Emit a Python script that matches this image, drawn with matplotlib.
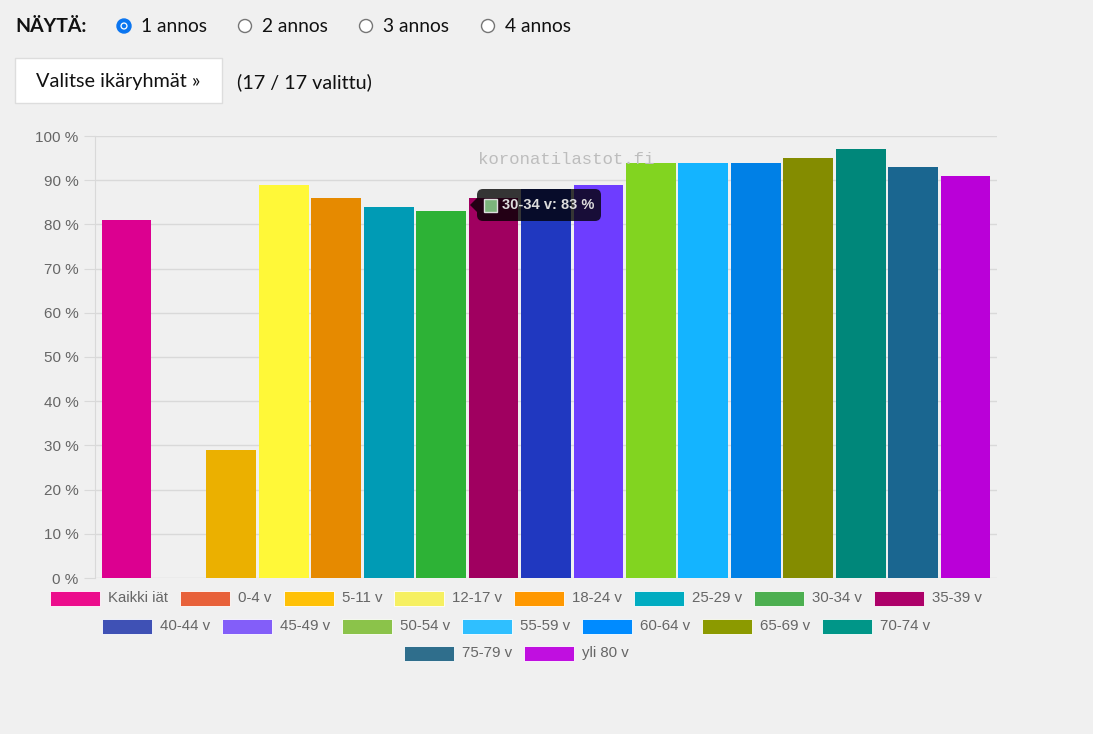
import matplotlib
matplotlib.use("Agg")
import matplotlib.pyplot as plt
from matplotlib.patches import Rectangle, FancyBboxPatch, Circle, Polygon

W, H = 1093, 734

# --------------------------------------------------
# Data
# --------------------------------------------------
groups = ['Kaikki iät', '0-4 v', '5-11 v', '12-17 v', '18-24 v', '25-29 v', '30-34 v',
          '35-39 v', '40-44 v', '45-49 v', '50-54 v', '55-59 v', '60-64 v', '65-69 v',
          '70-74 v', '75-79 v', 'yli 80 v']
values = [81, 0, 29, 89, 86, 84, 83, 86, 88, 89, 94, 94, 94, 95, 97, 93, 91]
bar_colors = ['#DC0090', '#E25530', '#EBB000', '#FFF838', '#E68A00', '#009BB5', '#2DB236',
              '#A00060', '#2038C0', '#6E3DFF', '#82D420', '#14B4FF', '#0080E6', '#848C00',
              '#00877A', '#1A6690', '#BA00D8']
legend_colors = ['#EC0C8C', '#E8613A', '#FFC107', '#F6F061', '#FF9800', '#00ACC1', '#4CAF50',
                 '#AD0069', '#3F51B5', '#835EF9', '#8BC34A', '#2FBFFF', '#008BFF', '#8C9A00',
                 '#009688', '#2F6E8C', '#C00FE0']
yticks = list(range(0, 101, 10))
dose_options = ['1 annos', '2 annos', '3 annos', '4 annos']
tooltip_text = '30-34 v: 83 %'

BG = '#F0F0F0'


def fx(px):
    return px / W


def fy(py):
    return 1 - py / H


fig = plt.figure(figsize=(W / 100, H / 100), dpi=100, facecolor=BG)

# --------------------------------------------------
# Top controls
# --------------------------------------------------
ui_font = 'Lato'
fig.text(fx(15), fy(27), 'NÄYTÄ:', fontfamily=ui_font, fontweight='bold', fontsize=14,
         color='#111111', va='center', ha='left')
radio_x = [124, 245, 366, 488]
for i, (rx, lab) in enumerate(zip(radio_x, dose_options)):
    if i == 0:
        fig.patches.append(Circle((rx, H - 26), 7, transform=None, facecolor='#0A75F0',
                                  edgecolor='#0A75F0', lw=1))
        fig.patches.append(Circle((rx, H - 26), 3.6, transform=None, facecolor='white',
                                  edgecolor='none'))
        fig.patches.append(Circle((rx, H - 26), 2.3, transform=None, facecolor='#0A75F0',
                                  edgecolor='none'))
    else:
        fig.patches.append(Circle((rx, H - 26), 6.5, transform=None, facecolor='white',
                                  edgecolor='#767676', lw=1))
    fig.text(fx(rx + 17), fy(27), lab, fontfamily=ui_font, fontsize=13.8, color='#111111',
             va='center', ha='left')

fig.patches.append(Rectangle((15, H - 103), 207, 45, transform=None, facecolor='white',
                             edgecolor='#DDDDDD', lw=1))
fig.text(fx(118.5), fy(82), 'Valitse ikäryhmät »', fontfamily=ui_font, fontsize=14.3,
         color='#111111', va='center', ha='center')
fig.text(fx(237), fy(82), '(17 / 17 valittu)', fontfamily=ui_font, fontsize=14.2,
         color='#111111', va='center', ha='left')

# --------------------------------------------------
# Bar chart
# --------------------------------------------------
ax = fig.add_axes([fx(95), fy(578), fx(997 - 95), (578 - 136) / H])
ax.set_facecolor(BG)
x = list(range(len(groups)))
ax.bar(x, values, width=0.95, color=bar_colors, edgecolor='none', zorder=3)
ax.set_xlim(-0.6, len(groups) - 0.4)
ax.set_ylim(0, 100)
ax.set_yticks(yticks)
ax.set_yticklabels([f'{v} %' for v in yticks], fontfamily='Liberation Sans', fontsize=11,
                   color='#666666')
ax.set_xticks([])
ax.tick_params(axis='y', length=8, color='#D9D9D9', pad=4)
ax.grid(axis='y', color='#D9D9D9', lw=1, zorder=0)
for s in ['top', 'right', 'bottom']:
    ax.spines[s].set_visible(False)
ax.spines['left'].set_color('#D9D9D9')

# watermark
fig.text(fx(566), fy(160), 'koronatilastot.fi', fontfamily='Liberation Mono', fontsize=12.5,
         color='#BDBDBD', ha='center', va='center')

# --------------------------------------------------
# Legend (centered rows like chart.js)
# --------------------------------------------------
renderer = fig.canvas.get_renderer()
rows = [groups[0:8], groups[8:15], groups[15:]]
row_y = [598, 626, 653]
box_w, box_h, gap_t, gap_i = 50, 15, 8, 12
center = 516
idx = 0
for row, ry in zip(rows, row_y):
    texts = []
    widths = []
    for lab in row:
        t = fig.text(0, fy(ry), lab, fontfamily='Liberation Sans', fontsize=10.8,
                     color='#666666', va='center', ha='left')
        texts.append(t)
        widths.append(t.get_window_extent(renderer).width)
    total = sum(box_w + gap_t + w for w in widths) + gap_i * (len(row) - 1)
    cx = center - total / 2
    for t, w in zip(texts, widths):
        fig.patches.append(Rectangle((cx, H - ry - box_h / 2), box_w, box_h, transform=None,
                                     facecolor=legend_colors[idx], edgecolor='white', lw=0.6))
        t.set_x(fx(cx + box_w + gap_t))
        cx += box_w + gap_t + w + gap_i
        idx += 1

# --------------------------------------------------
# Tooltip
# --------------------------------------------------
fig.patches.append(FancyBboxPatch((477, H - 221), 124, 32, boxstyle='round,pad=0,rounding_size=6',
                                  transform=None, facecolor='black', edgecolor='none',
                                  alpha=0.78, zorder=5))
fig.patches.append(Polygon([(477, H - 198), (470, H - 205), (477, H - 212)], closed=True,
                           transform=None, facecolor='black', edgecolor='none', alpha=0.78,
                           zorder=5))
fig.patches.append(Rectangle((484, H - 212), 13, 13, transform=None,
                             facecolor='#7CB47C', edgecolor='#DDDDDD', lw=1, zorder=6))
fig.text(fx(502), fy(205), tooltip_text, fontfamily='Liberation Sans', fontsize=10.5,
         fontweight='bold', color='#DDDDDD', ha='left', va='center', zorder=6)

fig.savefig('out.png', dpi=100, facecolor=BG)
